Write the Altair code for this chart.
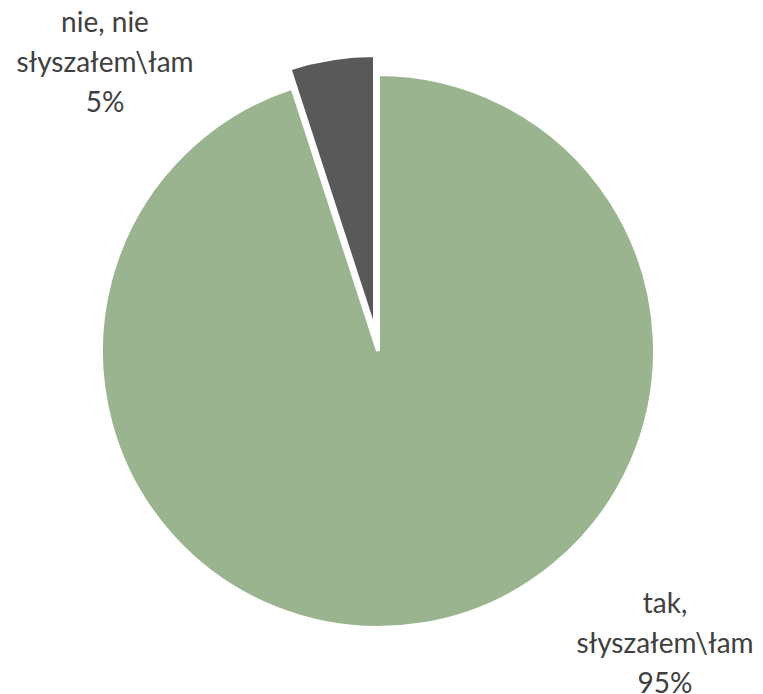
import altair as alt
import pandas as pd

categories = ["tak,\nsłyszałem\\łam", "nie, nie\nsłyszałem\\łam"]
values = [95, 5]
colors = ["#9BB490", "#595959"]

df = pd.DataFrame({"category": categories, "value": values, "idx": list(range(len(values)))})

TAU = 6.283185307
base = (
    alt.Chart(df)
    .transform_window(cum="sum(value)", sort=[alt.SortField("idx")], frame=[None, 0])
    .transform_calculate(start="datum.cum - datum.value", end="datum.cum")
    .transform_calculate(label="datum.category + '\\n' + datum.value + '%'")
)

theta_scale = alt.Scale(domain=[0, 100], range=[0, TAU])
color_scale = alt.Scale(domain=categories, range=colors)

def pie(cat, cx, cy):
    return base.transform_filter(alt.datum.category == cat).mark_arc(
        outerRadius=277, stroke="white", strokeWidth=4, x=cx, y=cy
    ).encode(
        theta=alt.Theta("start:Q", scale=theta_scale),
        theta2="end:Q",
        color=alt.Color("category:N", scale=color_scale, legend=None),
    )

def label(cat, x, y):
    return base.transform_filter(alt.datum.category == cat).mark_text(
        font="Lato", fontSize=28, color="#404040", lineBreak="\n", lineHeight=40,
        align="center", baseline="alphabetic", x=x, y=y
    ).encode(text="label:N")

chart = alt.layer(
    pie(categories[0], 370, 343),
    pie(categories[1], 367, 324),
    label(categories[1], 97, 24),
    label(categories[0], 657, 605),
).properties(
    width=747, height=686, padding=0, autosize=alt.AutoSizeParams(type="none")
).configure_view(stroke=None)

chart.save("out.html", embed_options={"renderer": "svg", "actions": False})
